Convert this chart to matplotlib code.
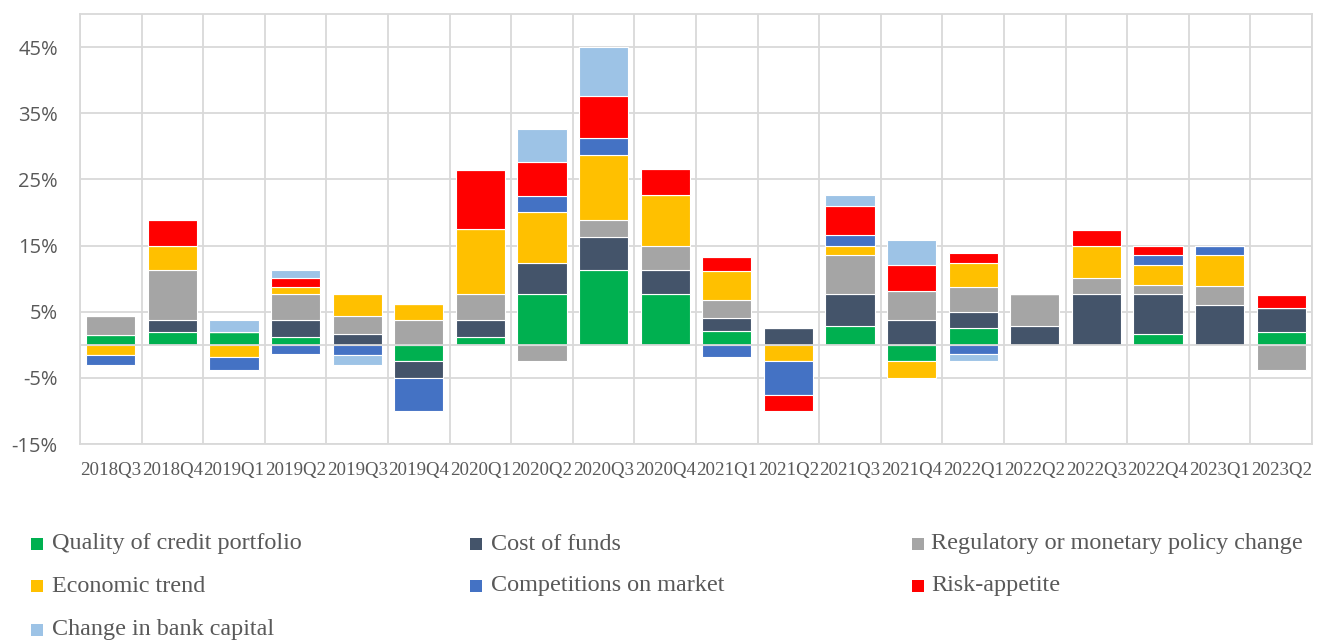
import numpy as np
import matplotlib
matplotlib.use("Agg")
import matplotlib.pyplot as plt
from matplotlib.patches import Rectangle

# Quarters on the x axis
quarters = ["2018Q3", "2018Q4", "2019Q1", "2019Q2", "2019Q3", "2019Q4",
            "2020Q1", "2020Q2", "2020Q3", "2020Q4", "2021Q1", "2021Q2",
            "2021Q3", "2021Q4", "2022Q1", "2022Q2", "2022Q3", "2022Q4",
            "2023Q1", "2023Q2"]

# Contribution of each factor (in %)
quality = [1.5, 1.9, 1.9, 1.2, 0, -2.5, 1.2, 7.6, 11.3, 7.6,
           2.1, 0, 2.9, -2.5, 2.5, 0, 0, 1.6, 0, 1.9]
cost_of_funds = [0, 1.8, 0, 2.5, 1.6, -2.5, 2.5, 4.8, 5.0, 3.7,
                 1.9, 2.5, 4.7, 3.7, 2.5, 2.9, 7.6, 6.0, 6.0, 3.7]
regulatory = [2.9, 7.6, 0, 3.9, 2.8, 3.7, 3.9, -2.5, 2.5, 3.7,
              2.8, 0, 6.0, 4.5, 3.7, 4.7, 2.5, 1.4, 2.9, -3.8]
economic = [-1.6, 3.6, -1.9, 1.1, 3.2, 2.5, 9.9, 7.6, 9.9, 7.6,
            4.4, -2.5, 1.4, -2.5, 3.7, 0, 4.8, 3.1, 4.6, 0]
competition = [-1.5, 0, -1.9, -1.4, -1.6, -5.05, 0, 2.5, 2.5, 0,
               -1.9, -5.05, 1.6, 0, -1.4, 0, 0, 1.5, 1.4, 0]
risk_appetite = [0, 3.9, 0, 1.4, 0, 0, 8.9, 5.1, 6.4, 3.9,
                 2.0, -2.5, 4.4, 3.9, 1.4, 0, 2.5, 1.4, 0, 1.9]
bank_capital = [0, 0, 1.8, 1.2, -1.5, 0, 0, 5.0, 7.4, 0,
                0, 0, 1.6, 3.7, -1.1, 0, 0, 0, 0, 0]

series_names = ["Quality of credit portfolio", "Cost of funds",
                "Regulatory or monetary policy change", "Economic trend",
                "Competitions on market", "Risk-appetite",
                "Change in bank capital"]
series_values = [quality, cost_of_funds, regulatory, economic,
                 competition, risk_appetite, bank_capital]
colors = ["#00B050", "#44546A", "#A5A5A5", "#FFC000",
          "#4472C4", "#FF0000", "#9DC3E6"]

grid_col = "#D9D9D9"
text_col = "#595959"

fig = plt.figure(figsize=(13.18, 6.43), dpi=100)
ax = fig.add_axes([80 / 1318, 1 - 444 / 643, 1232 / 1318, 430 / 643])

x = np.arange(len(quarters))
pos_base = np.zeros(len(quarters))
neg_base = np.zeros(len(quarters))

# stacked bars, positives go up and negatives go down
for vals, col in zip(series_values, colors):
    v = np.array(vals, dtype=float)
    bottoms = np.where(v >= 0, pos_base, neg_base)
    ax.bar(x, v, width=0.8, bottom=bottoms, color=col,
           edgecolor="white", linewidth=0.8, zorder=3)
    pos_base = pos_base + np.clip(v, 0, None)
    neg_base = neg_base + np.clip(v, None, 0)

# axis ranges and ticks
ax.set_xlim(-0.5, len(quarters) - 0.5)
ax.set_ylim(-15, 50)
ax.set_yticks(np.arange(-15, 50, 10))
ax.set_yticklabels([f"{t}%" for t in np.arange(-15, 50, 10)],
                   fontfamily="Open Sans", fontsize=14.5, color=text_col)
ax.set_xticks(x)
ax.set_xticklabels(quarters, fontfamily="Liberation Serif",
                   fontsize=13.6, color=text_col)
ax.set_xticks(np.arange(-0.5, len(quarters), 1), minor=True)
ax.tick_params(axis="both", which="both", length=0)
ax.tick_params(axis="y", pad=16)
ax.tick_params(axis="x", pad=13)

# gridlines (horizontal on major, vertical on the category borders)
ax.grid(axis="y", which="major", color=grid_col, linewidth=1.3, zorder=0)
ax.grid(axis="x", which="minor", color=grid_col, linewidth=1.3, zorder=0)
ax.axhline(0, color=grid_col, linewidth=1.3, zorder=4)
for s in ax.spines.values():
    s.set_color(grid_col)
    s.set_linewidth(1.3)

# legend laid out by hand in three columns, row by row
marker_x = [31, 470, 912]
text_x = [52, 491, 931]
row_y = [544, 586, 630]
for i, (name, col) in enumerate(zip(series_names, colors)):
    r, c = divmod(i, 3)
    fig.patches.append(Rectangle(((marker_x[c]) / 1318, 1 - (row_y[r] + 6) / 643),
                                 12 / 1318, 12 / 643, transform=fig.transFigure,
                                 facecolor=col, edgecolor="none"))
    fig.text(text_x[c] / 1318, 1 - row_y[r] / 643, name, va="center", ha="left",
             fontfamily="Liberation Serif", fontsize=17.4, color=text_col)

fig.savefig("out.png", dpi=100)
